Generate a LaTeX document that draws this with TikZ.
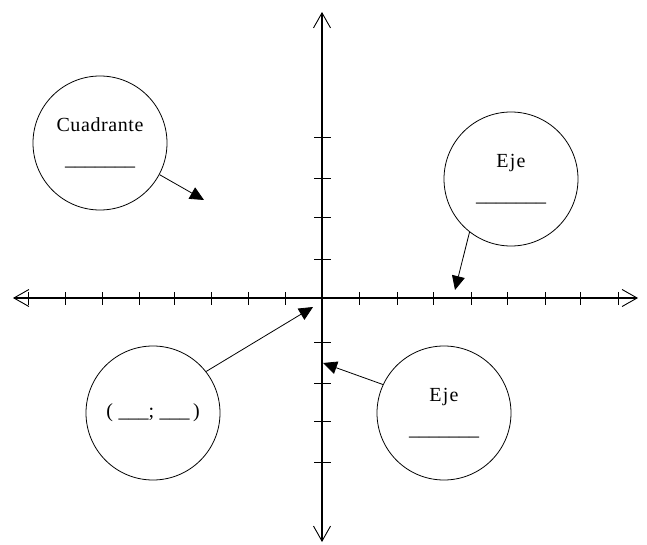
\documentclass[tikz,border=0pt]{standalone}
\usepackage{fontspec}
\setmainfont{Liberation Serif}
\usetikzlibrary{arrows.meta}
\begin{document}
\begin{tikzpicture}[x=1pt,y=-1pt,
  axis/.style={line width=1.1pt,{Straight Barb[length=15pt,width=17pt,line width=0.9pt]}-{Straight Barb[length=15pt,width=17pt,line width=0.9pt]}},
  tick/.style={line width=1pt},
  bubble/.style={draw,circle,line width=0.8pt,minimum size=134pt,inner sep=0pt,align=center,font=\fontsize{20}{34}\selectfont},
  pointer/.style={line width=0.8pt,-{Triangle[length=14pt,width=13pt]}}]
\useasboundingbox (0,0) rectangle (647,545);
% axes
\coordinate (L) at (13,298);
\coordinate (R) at (638,298);
\coordinate (T) at (322,12);
\coordinate (B) at (322,542);
\draw[axis] (L) -- (R);
\draw[axis] (T) -- (B);
% horizontal ticks
\foreach \x in {28,65,102,139,174,211,248,285,359,397,433,471,507,545,580,618}
  \draw[tick] (\x,292) -- (\x,305);
% vertical ticks
\foreach \y in {138,179,218,259,342,383,421,462}
  \draw[tick] (314,\y) -- (331,\y);
% bubbles
\node[bubble] (cuad) at (100,143) {{\addfontfeatures{LetterSpace=3}Cuadrante}\\\_\_\_\_\_\_\_};
\node[bubble] (ejex) at (511,179) {{\addfontfeatures{LetterSpace=6}Eje}\\\_\_\_\_\_\_\_};
\node[bubble] (par) at (153,413) {(\;\_\_\_;\;\_\_\_\,)};
\node[bubble] (ejey) at (444,413) {{\addfontfeatures{LetterSpace=6}Eje}\\\_\_\_\_\_\_\_};
% targets
\coordinate (tq) at (204,200);
\coordinate (tx) at (455,290);
\coordinate (to) at (313,307);
\coordinate (ty) at (323,363);
\draw[pointer] (cuad.-28) -- (tq);
\draw[pointer] (ejex.-128) -- (tx);
\draw[pointer] (par.38) -- (to);
\draw[pointer] (ejey.155) -- (ty);
\end{tikzpicture}
\end{document}
